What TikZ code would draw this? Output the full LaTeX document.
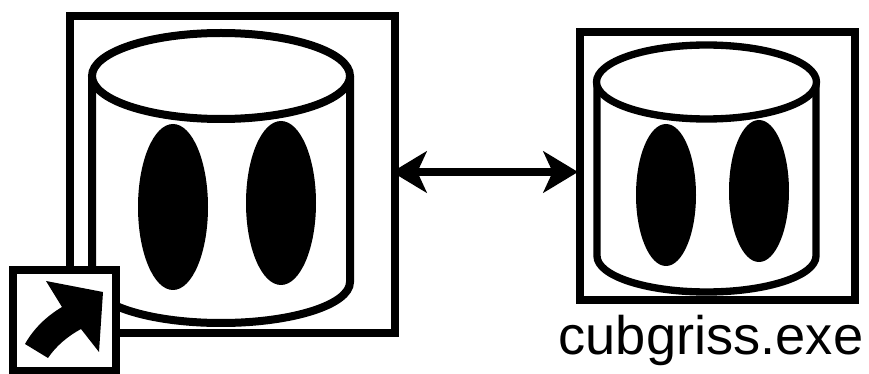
\documentclass[tikz,border=0pt]{standalone}
\usepackage{fontspec}
\setmainfont{Liberation Sans}
\usetikzlibrary{arrows.meta}
\tikzset{
  heavy/.style={draw=black,line width=6pt,fill=white},
  medium/.style={draw=black,line width=5.5pt,fill=white},
  eye/.style={fill=black},
  link/.style={line width=5.5pt,{Stealth[length=26pt,width=31pt,inset=7pt]}-{Stealth[length=26pt,width=31pt,inset=7pt]}}
}
\begin{document}
\begin{tikzpicture}[x=0.75pt,y=-0.75pt]
\useasboundingbox (0,0) rectangle (869,374);
\fill[white] (0,0) rectangle (869,374);
% left frame
\draw[heavy] (70,16) rectangle (395,333);
\coordinate (lf) at (392,172);
% left drum
\draw[heavy] (92,76) -- (92,282) arc[start angle=180,end angle=0,x radius=129,y radius=41] -- (350,76);
\draw[heavy] (221,76) ellipse[x radius=129,y radius=43];
\fill[eye] (173,207) ellipse[x radius=35,y radius=83];
\fill[eye] (281,203) ellipse[x radius=35,y radius=82];
% right frame
\draw[medium] (580,32) rectangle (855,300);
\coordinate (rf) at (578,172);
% right drum
\draw[medium] (597,84) -- (597,256) arc[start angle=180,end angle=0,x radius=109.5,y radius=36] -- (816,84);
\draw[medium] (706.5,82) ellipse[x radius=110,y radius=37];
\fill[eye] (666,195) ellipse[x radius=30,y radius=71];
\fill[eye] (759,191) ellipse[x radius=30,y radius=71];
\draw[link] (lf) -- (rf);
% shortcut badge
\draw[medium] (13,270) rectangle (116,371);
\fill[black] (46,281) -- (103,292) -- (99,352) -- (81,329) .. controls (68,336) and (56,346) .. (48,358) -- (25,344) .. controls (34,328) and (47,316) .. (62,307) -- cycle;
\node[font=\fontsize{40.7pt}{42pt}\selectfont,anchor=base] (lbl) at (711,355) {cubgriss.exe};
\end{tikzpicture}
\end{document}
